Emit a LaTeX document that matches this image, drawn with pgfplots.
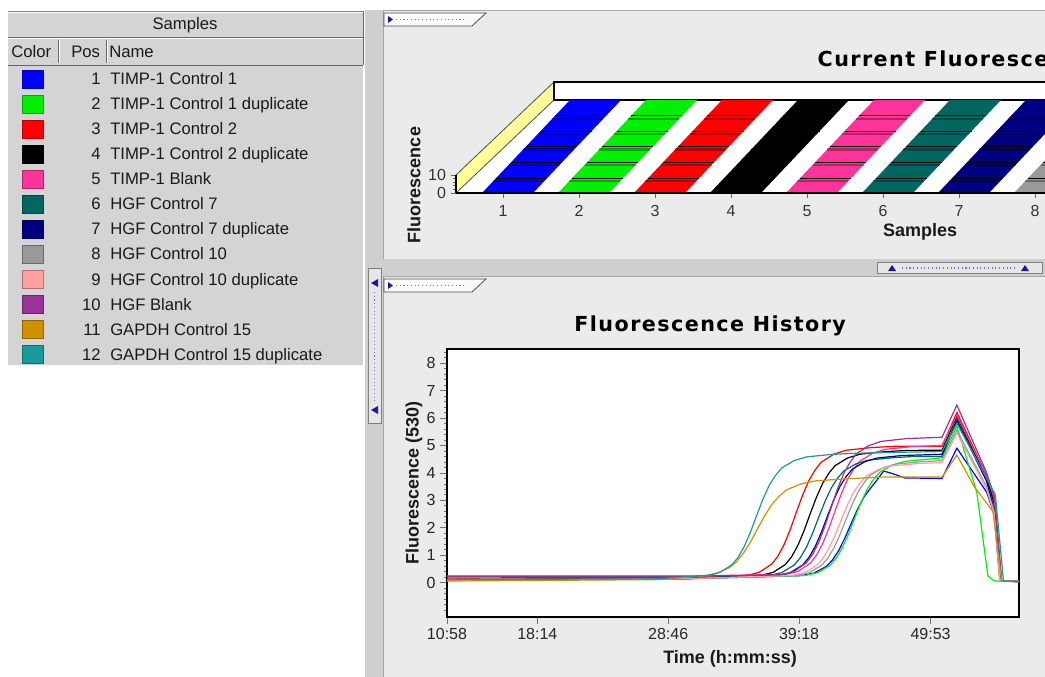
\documentclass[border=0pt]{standalone}
\usepackage{pgfplots}
\pgfplotsset{compat=1.18}
\usepackage{fontspec}
\setmainfont{Liberation Sans}
\newfontfamily\titlefont[LetterSpace=7]{DejaVu Sans}
\definecolor{c1}{HTML}{0000FF}
\definecolor{c2}{HTML}{00F000}
\definecolor{c3}{HTML}{FF0000}
\definecolor{c4}{HTML}{000000}
\definecolor{c5}{HTML}{FF3399}
\definecolor{c6}{HTML}{006660}
\definecolor{c7}{HTML}{000080}
\definecolor{c8}{HTML}{999999}
\definecolor{c9}{HTML}{FFA0A0}
\definecolor{c10}{HTML}{993399}
\definecolor{c11}{HTML}{D09000}
\definecolor{c12}{HTML}{1A9A9A}
\definecolor{lp}{HTML}{D4D4D4}
\definecolor{rp}{HTML}{EBEBEB}
\definecolor{sp}{HTML}{CFCFCF}
\definecolor{hand}{HTML}{E6E6E6}
\definecolor{wally}{HTML}{FFFF99}
\definecolor{txt}{HTML}{1A1A1A}
\definecolor{tabblue}{HTML}{1A1A9A}
\begin{document}
\begin{tikzpicture}[x=0.75pt,y=-0.75pt]
\path[use as bounding box] (0,0) rectangle (1045,677);
\clip (0,0) rectangle (1045,677);
\fill[white] (0,0) rectangle (1045,677);
% ---------------- left panel (legend table)
\fill[lp] (8,11) rectangle (363,365);
\draw[gray] (8,11) -- (363,11);
\draw[white] (8,12) -- (363,12);
\draw[gray!80!black] (8,37.5) -- (363,37.5);
\draw[white] (8,38.5) -- (363,38.5);
\draw[gray!80!black] (8,65) -- (363,65);
\draw[gray!80!black] (363,11) -- (363,65);
\draw[gray!80!black] (58,40) -- (58,63);
\draw[white] (59,40) -- (59,63);
\draw[gray!80!black] (106,40) -- (106,63);
\draw[white] (107,40) -- (107,63);
\begin{scope}[every node/.style={font=\fontsize{12.5}{15}\selectfont, text=txt, inner sep=0pt}]
\node at (185,25) {Samples};
\node[anchor=base west] at (11,58) {Color};
\node[anchor=base west] at (71,58) {Pos};
\node[anchor=base west] at (109,58) {Name};
\foreach \c/\n/\t [count=\i] in {c1/1/TIMP-1 Control 1, c2/2/TIMP-1 Control 1 duplicate, c3/3/TIMP-1 Control 2, c4/4/TIMP-1 Control 2 duplicate, c5/5/TIMP-1 Blank, c6/6/HGF Control 7, c7/7/HGF Control 7 duplicate, c8/8/HGF Control 10, c9/9/HGF Control 10 duplicate, c10/10/HGF Blank, c11/11/GAPDH Control 15, c12/12/GAPDH Control 15 duplicate}{
  \pgfmathsetmacro\yy{79+25*(\i-1)}
  \fill[\c] (22,\yy-9) rectangle (43,\yy+9);
  \draw[\c!70!black, line width=0.5pt] (22,\yy-9) rectangle (43,\yy+9);
  \node[anchor=base east] at (101,\yy+6) {\n};
  \node[anchor=base west] at (110,\yy+6) {\t};
}
\end{scope}
% ---------------- splitters and right panels
\fill[sp] (365,10) rectangle (383,677);
\fill[rp] (383,10) rectangle (1045,259);
\fill[sp] (383,259) rectangle (1045,276);
\fill[rp] (383,276) rectangle (1045,677);
\draw[gray!70] (383,10) -- (1045,10);
\draw[gray!70] (383,10) -- (383,259);
\draw[gray!70] (383,276) -- (1045,276);
\draw[gray!70] (383,276) -- (383,677);
% vertical handle
\draw[fill=hand, draw=gray] (368,268) rectangle (381,423);
\fill[tabblue] (371,283) -- (378,279) -- (378,287) -- cycle;
\fill[tabblue] (371,410) -- (378,406) -- (378,414) -- cycle;
\draw[tabblue!60, line width=0.8pt, dash pattern=on 0.8pt off 2pt] (374.5,292) -- (374.5,401);
% horizontal handle
\draw[fill=hand, draw=gray] (877,262) rectangle (1042,273);
\fill[tabblue] (888,271) -- (896,271) -- (892,265) -- cycle;
\fill[tabblue] (1021,271) -- (1029,271) -- (1025,265) -- cycle;
\draw[tabblue!60, line width=0.8pt, dash pattern=on 0.8pt off 2pt] (902,268) -- (1016,268);
% tabs
\foreach \dy in {0,266}{
  \draw[fill=white!96!gray, draw=gray!60!black, line width=0.6pt] (384,13+\dy) -- (486,13+\dy) -- (472,26+\dy) -- (384,26+\dy) -- cycle;
  \fill[tabblue] (388,16+\dy) -- (388,23+\dy) -- (393,19.5+\dy) -- cycle;
  \draw[tabblue!60, line width=0.8pt, dash pattern=on 0.8pt off 2pt] (396,19.5+\dy) -- (466,19.5+\dy);
}
% ---------------- top chart: current fluorescence
\coordinate (T) at (456,193);
\begin{axis}[at={(T)}, anchor=south west, scale only axis,
  width=441.75pt, height=13.5pt,
  xmin=0.382, xmax=8.132, ymin=0, ymax=10,
  clip=false, axis on top,
  axis x line*=bottom, axis y line*=left,
  axis line style={black, line width=0.8pt},
  xtick={1,...,8}, ytick={0,10}, minor y tick num=4,
  tick align=outside, major tick length=4pt, minor tick length=2pt,
  tick style={black!60, line width=0.6pt},
  /pgf/number format/assume math mode=true,
  ticklabel style={font=\fontsize{12}{14}\selectfont, text=black!80},
  xticklabel style={yshift=-2pt},
  xlabel={Samples}, ylabel={Fluorescence},
  label style={font=\fontsize{13.5}{16}\selectfont\bfseries, text=txt},
  xlabel style={at={(axis description cs:0.788,-2.167)}, anchor=center},
  ylabel style={at={(axis description cs:-0.0713,0.444)}, anchor=center},
  title={Current Fluorescence},
  title style={at={(axis description cs:0.606,7.0)}, anchor=west, font=\titlefont\bfseries\fontsize{15.5}{18}\selectfont, text=black},
]
% floor
\addplot[fill=white, draw=none] coordinates {(0.382,0) (8.4,0) (9.7,51.67) (1.671,51.67)} -- cycle;
% left wall
\addplot[fill=wally, draw=black!70, line width=0.6pt] coordinates {(0.382,0) (1.671,51.67) (1.671,61.67) (0.382,10)} -- cycle;
% back wall
\addplot[fill=white, draw=black, line width=0.9pt] coordinates {(1.671,51.67) (9.8,51.67) (9.8,61.67) (1.671,61.67)} -- cycle;
% bars
\addplot[fill=c1, draw=none] coordinates {(0.724,0) (1.395,0) (2.553,51.67) (1.882,51.67)} -- cycle;
\addplot[fill=c2, draw=none] coordinates {(1.724,0) (2.395,0) (3.553,51.67) (2.882,51.67)} -- cycle;
\addplot[fill=c3, draw=none] coordinates {(2.724,0) (3.395,0) (4.553,51.67) (3.882,51.67)} -- cycle;
\addplot[fill=c4, draw=none] coordinates {(3.724,0) (4.395,0) (5.553,51.67) (4.882,51.67)} -- cycle;
\addplot[fill=c5, draw=none] coordinates {(4.724,0) (5.395,0) (6.553,51.67) (5.882,51.67)} -- cycle;
\addplot[fill=c6, draw=none] coordinates {(5.724,0) (6.395,0) (7.553,51.67) (6.882,51.67)} -- cycle;
\addplot[fill=c7, draw=none] coordinates {(6.724,0) (7.395,0) (8.553,51.67) (7.882,51.67)} -- cycle;
\addplot[fill=c8, draw=none] coordinates {(7.724,0) (8.395,0) (9.553,51.67) (8.882,51.67)} -- cycle;
\pgfplotsinvokeforeach{1,...,8}{
  \draw[black, opacity=0.3, line width=2pt] (axis cs:{#1-0.276+0.150},6.7) -- (axis cs:{#1+0.395+0.150},6.7);
  \draw[black, opacity=0.3, line width=2pt] (axis cs:{#1-0.276+0.349},15.6) -- (axis cs:{#1+0.395+0.349},15.6);
  \draw[black, opacity=0.3, line width=2pt] (axis cs:{#1-0.276+0.538},24.0) -- (axis cs:{#1+0.395+0.538},24.0);
  \draw[black, opacity=0.3, line width=2pt] (axis cs:{#1-0.276+0.735},32.8) -- (axis cs:{#1+0.395+0.735},32.8);
  \draw[black, opacity=0.3, line width=2pt] (axis cs:{#1-0.276+0.923},41.2) -- (axis cs:{#1+0.395+0.923},41.2);
  \draw[black, line width=0.8pt] (axis cs:{#1-0.276+0.186},8.3) -- (axis cs:{#1+0.395+0.186},8.3);
  \draw[black, line width=0.8pt] (axis cs:{#1-0.276+0.385},17.2) -- (axis cs:{#1+0.395+0.385},17.2);
  \draw[black, line width=0.8pt] (axis cs:{#1-0.276+0.574},25.6) -- (axis cs:{#1+0.395+0.574},25.6);
  \draw[black, line width=0.8pt] (axis cs:{#1-0.276+0.771},34.4) -- (axis cs:{#1+0.395+0.771},34.4);
  \draw[black, line width=0.8pt] (axis cs:{#1-0.276+0.959},42.8) -- (axis cs:{#1+0.395+0.959},42.8);
}
\end{axis}
% ---------------- bottom chart: fluorescence history
\coordinate (B) at (447,617);
\begin{axis}[at={(B)}, anchor=south west, scale only axis,
  width=429pt, height=201pt,
  xmin=10.967, xmax=57.0, ymin=-1.24, ymax=8.51,
  axis background/.style={fill=white},
  axis line style={black, line width=1.1pt},
  xtick={10.967,18.233,28.767,39.3,49.883},
  xticklabels={10:58,18:14,28:46,39:18,49:53},
  ytick={0,...,8},
  minor ytick={-1,-0.8,-0.6,-0.4,-0.2,0.2,0.4,0.6,0.8,1.2,1.4,1.6,1.8,2.2,2.4,2.6,2.8,3.2,3.4,3.6,3.8,4.2,4.4,4.6,4.8,5.2,5.4,5.6,5.8,6.2,6.4,6.6,6.8,7.2,7.4,7.6,7.8,8.2,8.4},
  tick align=outside, tick pos=left,
  major tick length=5pt, minor tick length=2pt,
  tick style={black!55, line width=0.7pt},
  /pgf/number format/assume math mode=true,
  ticklabel style={font=\fontsize{12}{14}\selectfont, text=black!85},
  xlabel={Time (h:mm:ss)}, ylabel={Fluorescence (530)},
  label style={font=\fontsize{13.5}{16}\selectfont\bfseries, text=txt},
  xlabel style={at={(axis description cs:0.495,-0.155)}, anchor=center},
  ylabel style={at={(axis description cs:-0.0577,0.5)}, anchor=center},
  title={Fluorescence History},
  title style={at={(axis description cs:0.46,1.056)}, anchor=center, font=\titlefont\bfseries\fontsize{15.5}{18}\selectfont, text=black},
  every axis plot/.append style={line width=0.9pt},
]
\addplot[c1] coordinates {(10.967,0.12) (30,0.15) (36,0.22) (39.5,0.267) (40.5,0.357) (41.5,0.602) (42.0,0.84) (42.5,1.187) (43.0,1.644) (43.5,2.17) (44.0,2.677) (44.5,3.106) (45.0,3.418) (45.5,3.70) (46.1,4.07) (46.8,3.98) (47.8,3.82) (50.8,3.8) (52.0,4.9) (54.4,3.3) (55.0,2.5) (55.45,0.08) (57.0,0.05)};
\addplot[c2] coordinates {(10.967,0.13) (30,0.15) (36,0.22) (39.8,0.272) (40.8,0.372) (41.8,0.644) (42.3,0.908) (42.8,1.294) (43.3,1.8) (43.8,2.385) (44.3,2.948) (44.8,3.424) (45.3,3.771) (45.8,4.03) (46.8,4.29) (47.8,4.42) (49.8,4.507) (50.8,4.55) (52.0,5.7) (53.6,3.3) (54.5,0.25) (55.0,0.07) (57.0,0.05)};
\addplot[c3] coordinates {(10.967,0.18) (30,0.2) (33,0.22) (35.1,0.277) (36.1,0.386) (37.1,0.686) (37.6,0.975) (38.1,1.398) (38.6,1.954) (39.1,2.595) (39.6,3.213) (40.1,3.735) (40.6,4.115) (41.1,4.40) (42.1,4.685) (43.1,4.828) (45.1,4.923) (47,4.97) (50.8,4.97) (52.0,6.2) (54.4,3.9) (55.0,3.0) (55.6,0.08) (57.0,0.06)};
\addplot[c4] coordinates {(10.967,0.1) (30,0.15) (33,0.22) (36.2,0.275) (37.2,0.381) (38.2,0.671) (38.7,0.951) (39.2,1.361) (39.7,1.899) (40.2,2.52) (40.7,3.118) (41.2,3.624) (41.7,3.992) (42.2,4.268) (43.2,4.544) (44.2,4.682) (46.2,4.774) (48,4.82) (50.8,4.83) (52.0,6.05) (54.4,3.8) (55.05,2.8) (55.55,0.07) (57.0,0.05)};
\addplot[c5] coordinates {(10.967,0.25) (30,0.25) (38.2,0.307) (39.2,0.416) (40.2,0.716) (40.7,1.005) (41.2,1.428) (41.7,1.984) (42.2,2.625) (42.7,3.243) (43.2,3.765) (43.7,4.145) (44.2,4.43) (45.2,4.715) (46.2,4.858) (48.2,4.953) (50.8,5.0) (52.0,6.1) (54.4,3.9) (55.0,3.1) (55.55,0.08) (57.0,0.05)};
\addplot[c6] coordinates {(10.967,0.1) (30,0.15) (34,0.22) (36.9,0.273) (37.9,0.373) (38.9,0.649) (39.4,0.916) (39.9,1.306) (40.4,1.819) (40.9,2.41) (41.4,2.979) (41.9,3.461) (42.4,3.812) (42.9,4.074) (43.9,4.337) (44.9,4.469) (46.9,4.556) (48.5,4.6) (50.8,4.6) (52.0,5.95) (54.4,3.7) (55.0,2.7) (55.5,0.07) (57.0,0.05)};
\addplot[c7] coordinates {(10.967,0.12) (30,0.15) (34,0.22) (37.6,0.274) (38.6,0.376) (39.6,0.657) (40.1,0.929) (40.6,1.326) (41.1,1.848) (41.6,2.45) (42.1,3.03) (42.6,3.52) (43.1,3.877) (43.6,4.145) (44.6,4.412) (45.6,4.546) (47.6,4.635) (50.8,4.68) (52.0,5.9) (54.4,3.7) (55.05,2.5) (55.5,0.06) (57.0,0.05)};
\addplot[c8] coordinates {(10.967,0.1) (30,0.15) (35,0.22) (39.1,0.271) (40.1,0.368) (41.1,0.635) (41.6,0.893) (42.1,1.269) (42.6,1.764) (43.1,2.335) (43.6,2.885) (44.1,3.35) (44.6,3.689) (45.1,3.942) (46.1,4.196) (47.1,4.323) (49.1,4.408) (50.8,4.45) (52.0,5.55) (54.4,3.5) (55.0,2.6) (55.5,0.07) (57.0,0.05)};
\addplot[c9] coordinates {(10.967,0.08) (30,0.15) (35,0.22) (38.7,0.27) (39.7,0.366) (40.7,0.628) (41.2,0.881) (41.7,1.252) (42.2,1.738) (42.7,2.30) (43.2,2.841) (43.7,3.298) (44.2,3.631) (44.7,3.881) (45.7,4.13) (46.7,4.255) (48.7,4.338) (50.8,4.38) (52.0,5.45) (54.4,3.4) (55.0,2.5) (55.45,0.08) (57.0,0.05)};
\addplot[c10] coordinates {(10.967,0.24) (30,0.24) (37.9,0.301) (38.9,0.417) (39.9,0.736) (40.4,1.045) (40.9,1.495) (41.4,2.087) (41.9,2.77) (42.4,3.428) (42.9,3.984) (43.4,4.389) (43.9,4.693) (44.9,4.996) (45.9,5.148) (47.9,5.249) (50.8,5.3) (52.0,6.47) (54.4,4.0) (55.05,3.1) (55.6,0.08) (57.0,0.05)};
\addplot[c11] coordinates {(10.967,0.07) (28,0.12) (30,0.2) (31.4,0.243) (32.55,0.327) (33.7,0.555) (34.28,0.776) (34.85,1.098) (35.43,1.521) (36.0,2.01) (36.58,2.48) (37.15,2.879) (37.73,3.168) (38.3,3.386) (39.45,3.603) (40.6,3.711) (42.9,3.784) (46,3.85) (50.8,3.85) (52.0,4.65) (53.4,3.5) (54.9,2.6) (55.6,0.07) (57.0,0.06)};
\addplot[c12] coordinates {(10.967,0.12) (28,0.15) (30,0.22) (31.9,0.274) (32.9,0.378) (33.9,0.661) (34.4,0.936) (34.9,1.336) (35.4,1.863) (35.9,2.47) (36.4,3.055) (36.9,3.55) (37.4,3.91) (37.9,4.18) (38.9,4.45) (39.9,4.585) (41.9,4.675) (44,4.72) (47,4.75) (50.8,4.78) (52.0,5.8) (54.4,3.8) (55.1,3.2) (55.75,0.07) (57.0,0.06)};
\end{axis}
\end{tikzpicture}
\end{document}
